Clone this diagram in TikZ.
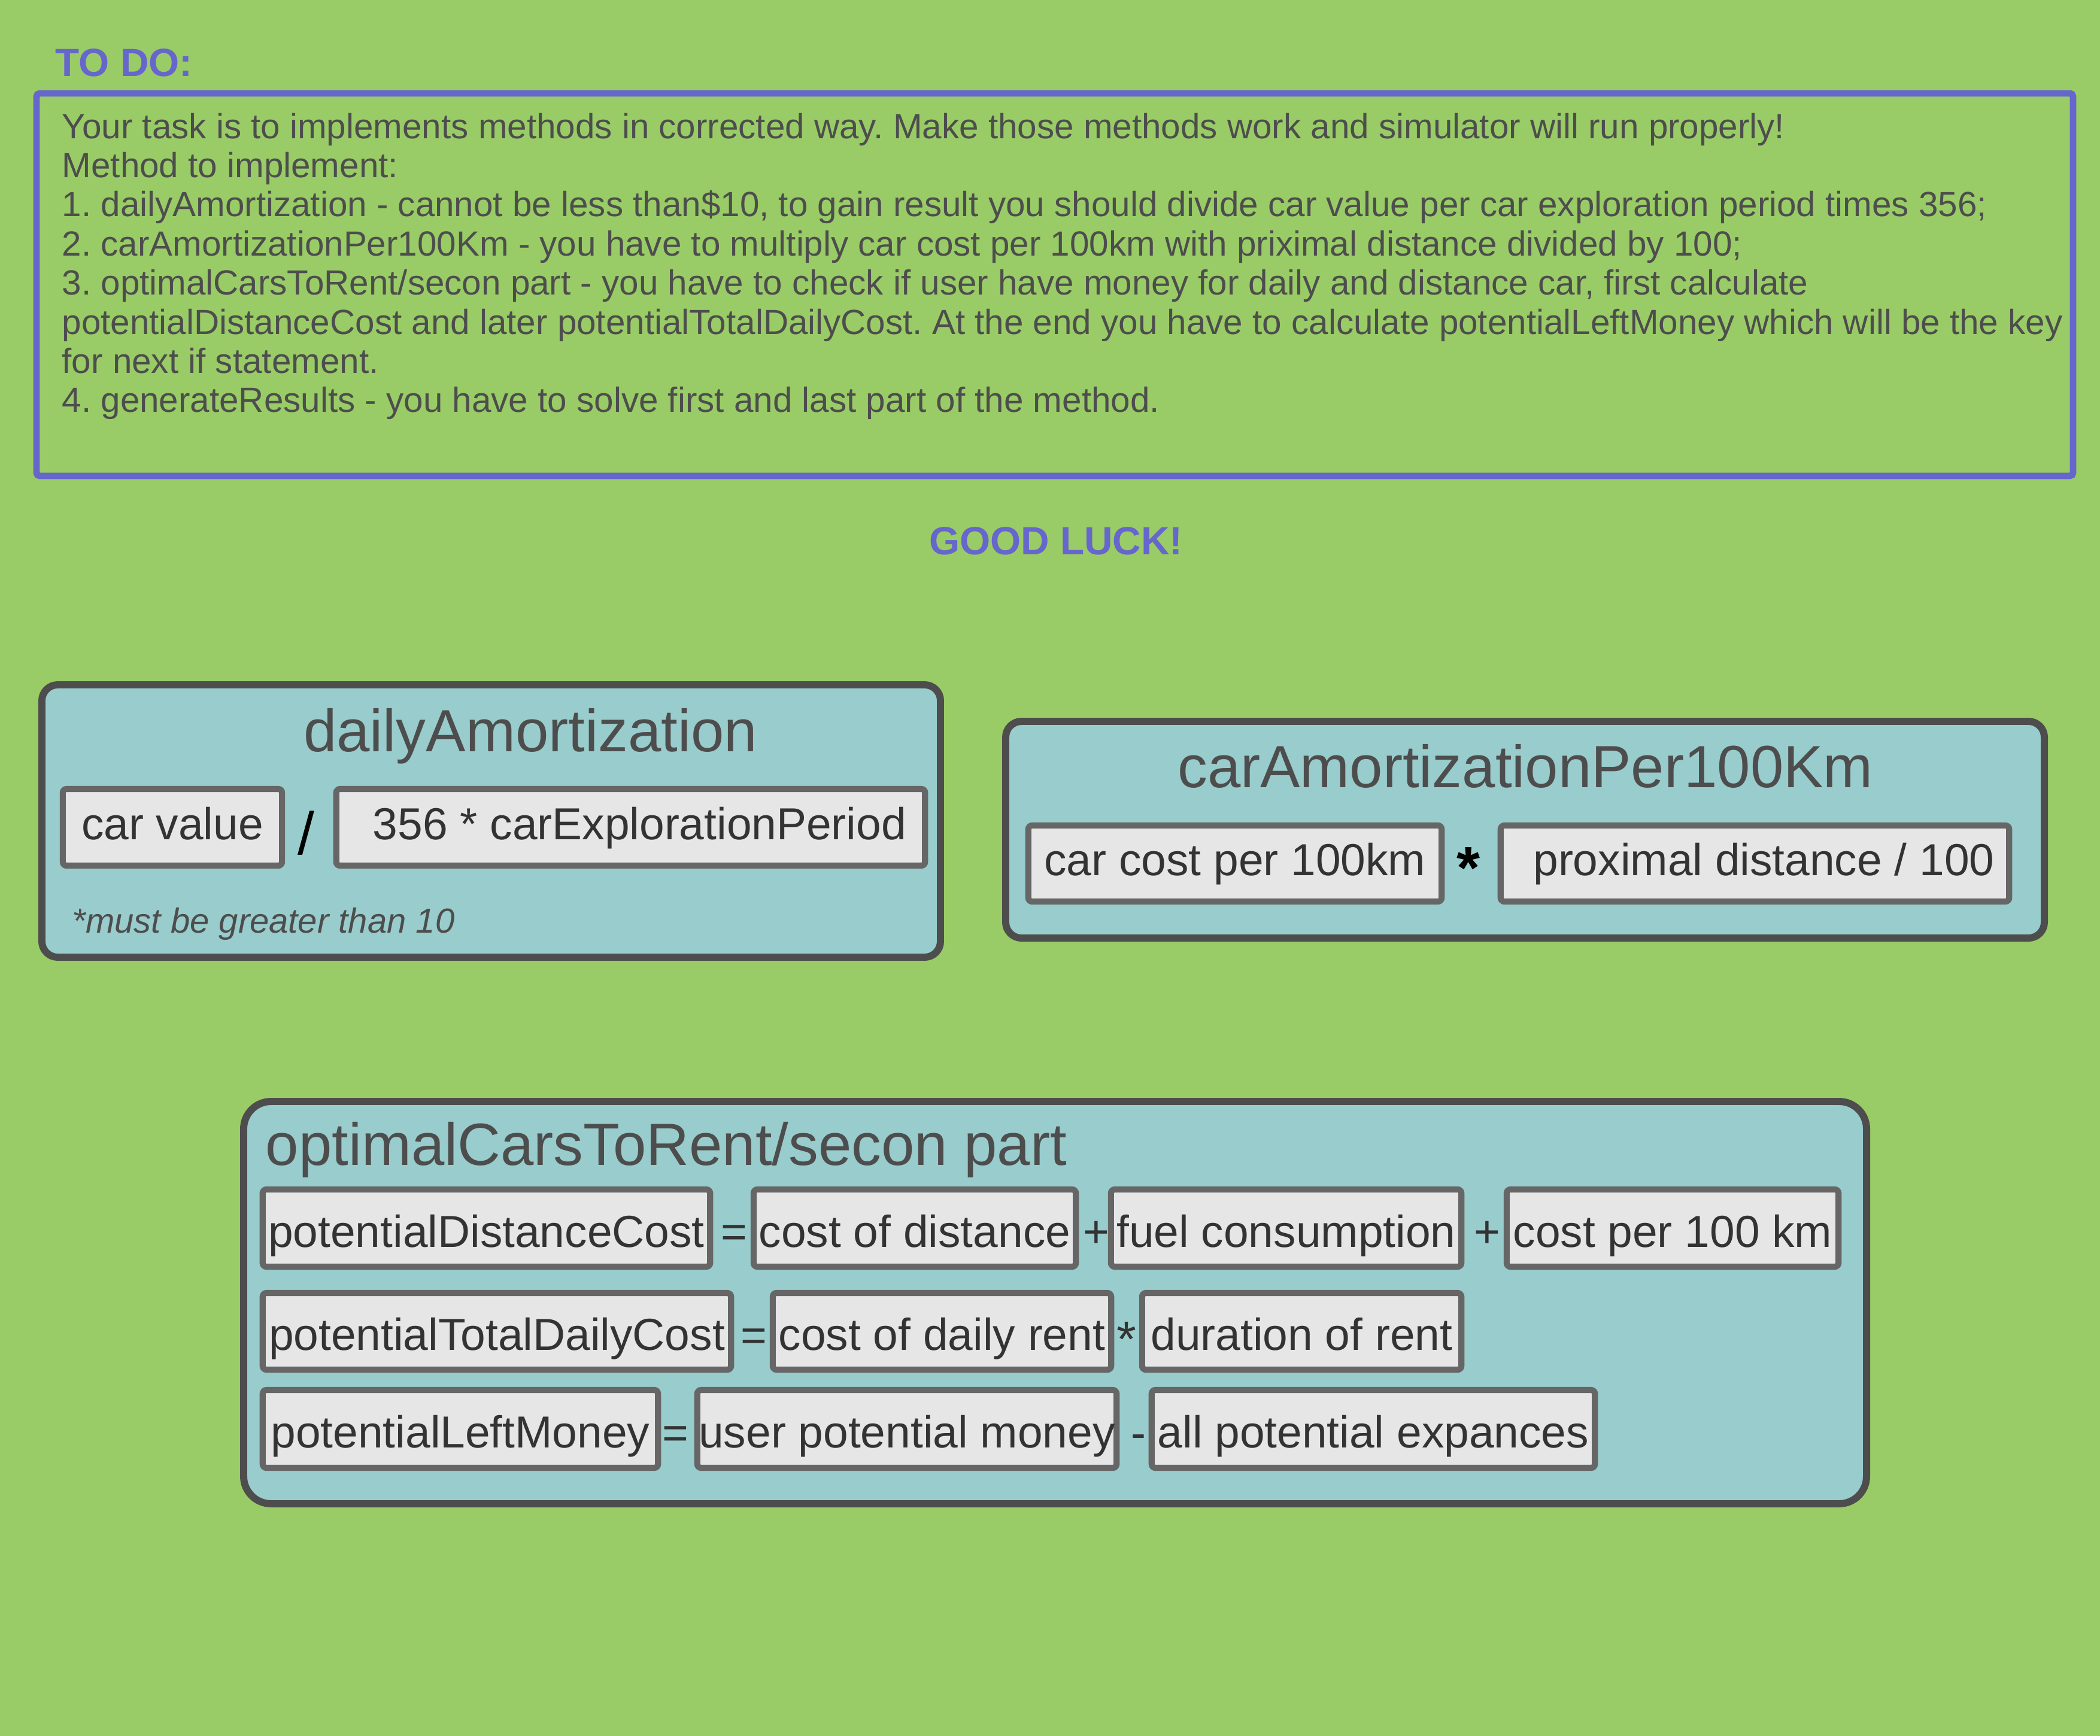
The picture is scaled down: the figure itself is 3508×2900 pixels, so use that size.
\documentclass[tikz,border=0pt]{standalone}
\usepackage{fontspec}
\setmainfont{Liberation Sans}
\frenchspacing
\definecolor{bggreen}{HTML}{99CC66}
\definecolor{todoblue}{HTML}{6666CC}
\definecolor{panelteal}{HTML}{99CCCC}
\definecolor{panelline}{HTML}{4D4D4D}
\definecolor{cellline}{HTML}{666666}
\definecolor{cellfill}{HTML}{E6E6E6}
\definecolor{celltext}{HTML}{333333}
\tikzset{
  heading/.style={text=todoblue, font=\fontsize{18.7}{22}\selectfont\bfseries, inner sep=0},
  panel/.style={draw=panelline, fill=panelteal, line width=3.4pt, rounded corners=7.5pt},
  ptitle/.style={text=panelline, font=\fontsize{28.3}{34}\selectfont, inner sep=0},
  cell/.style={draw=cellline, fill=cellfill, line width=2.9pt, rounded corners=1.8pt, inner sep=0,
    text=celltext, font=\fontsize{21.3}{25}\selectfont, text height=18pt, text depth=0pt},
  topcell/.style={cell, text height=15.5pt, text depth=4pt},
  op/.style={text=celltext, font=\fontsize{21.3}{25}\selectfont, inner sep=0, anchor=base}
}
\begin{document}
\begin{tikzpicture}[x=0.01cm, y=-0.01cm]
\useasboundingbox (0,0) rectangle (3508,2900);
\fill[bggreen] (0,0) rectangle (3508,2900);
\node[heading, anchor=base west] (todo) at (92,128) {TO DO:};
\draw[todoblue, line width=3.1pt, rounded corners=1.5pt] (61,156) rectangle (3463,795);
\node[anchor=north west, inner sep=0, align=left, text=panelline, font=\fontsize{16.6}{18.6}\selectfont] (task) at (103,188)
  {Your task is to implements methods in corrected way. Make those methods work and simulator will run properly!\\
   Method to implement:\\
   1. dailyAmortization - cannot be less than\$10, to gain result you should divide car value per car exploration period times 356;\\
   2. carAmortizationPer100Km - you have to multiply car cost per 100km with priximal distance divided by 100;\\
   3. optimalCarsToRent/secon part - you have to check if user have money for daily and distance car, first calculate\\
   potentialDistanceCost and later potentialTotalDailyCost. At the end you have to calculate potentialLeftMoney which will be the key\\
   for next if statement.\\
   4. generateResults - you have to solve first and last part of the method.};
\node[heading, anchor=base] (luck) at (1764,926) {GOOD LUCK!};

\draw[panel] (70,1144) rectangle (1571,1599);
\node[ptitle, anchor=base] (dailytitle) at (886,1255) {dailyAmortization};
\node[topcell, minimum width=3.66cm, minimum height=1.28cm] (carval) at (288,1382) {car value};
\node[op, text=black, font=\fontsize{28.5}{34}\selectfont] (divop) at (511,1427) {/};
\node[topcell, minimum width=9.83cm, minimum height=1.28cm] (period) at (1053.5,1382) {\hspace{0.3cm}356 * carExplorationPeriod};
\node[anchor=base west, inner sep=0, text=panelline, font=\fontsize{16.5}{20}\selectfont\itshape] (note) at (120,1558) {*must be greater than 10};

\draw[panel] (1680,1205) rectangle (3415,1567);
\node[ptitle, anchor=base] (amorttitle) at (2548,1315) {carAmortizationPer100Km};
\node[topcell, minimum width=6.90cm, minimum height=1.27cm] (costkm) at (2063,1442.5) {car cost per 100km};
\node[op, text=black, font=\fontsize{28.5}{34}\selectfont\bfseries] (mulop) at (2453,1484) {*};
\node[topcell, minimum width=8.49cm, minimum height=1.27cm] (proxdist) at (2931.5,1442.5) {\hspace{0.3cm}proximal distance / 100};

\draw[panel, rounded corners=13pt] (407,1840) rectangle (3118,2512);
\node[ptitle, anchor=base west] (optitle) at (443,1946) {optimalCarsToRent/secon part};
\node[cell, minimum width=7.47cm, minimum height=1.29cm] (pdc) at (812.5,2051.5) {potentialDistanceCost};
\node[op] (eqa) at (1226,2083) {=};
\node[cell, minimum width=5.38cm, minimum height=1.29cm] (costdist) at (1528,2051.5) {cost of distance};
\node[op] (plusa) at (1831,2083) {+};
\node[cell, minimum width=5.85cm, minimum height=1.29cm] (fuel) at (2148.5,2051.5) {fuel consumption};
\node[op] (plusb) at (2484,2083) {+};
\node[cell, minimum width=5.54cm, minimum height=1.29cm] (costper) at (2794,2051.5) {cost per 100 km};
\node[cell, minimum width=7.82cm, minimum height=1.28cm] (ptdc) at (830,2224) {potentialTotalDailyCost};
\node[op] (eqb) at (1259,2256) {=};
\node[cell, minimum width=5.65cm, minimum height=1.28cm] (dailyrent) at (1573.5,2224) {cost of daily rent};
\node[op, font=\fontsize{24}{28}\selectfont] (mulb) at (1882,2266) {*};
\node[cell, minimum width=5.33cm, minimum height=1.28cm] (duration) at (2174.5,2224) {duration of rent};
\node[cell, minimum width=6.60cm, minimum height=1.30cm] (plm) at (769,2387) {potentialLeftMoney};
\node[op] (eqc) at (1128,2419) {=};
\node[cell, minimum width=7.00cm, minimum height=1.30cm] (usermoney) at (1515,2387) {user potential money};
\node[op] (minusc) at (1902,2419) {-};
\node[cell, minimum width=7.40cm, minimum height=1.30cm] (expances) at (2294,2387) {all potential expances};
\end{tikzpicture}
\end{document}
